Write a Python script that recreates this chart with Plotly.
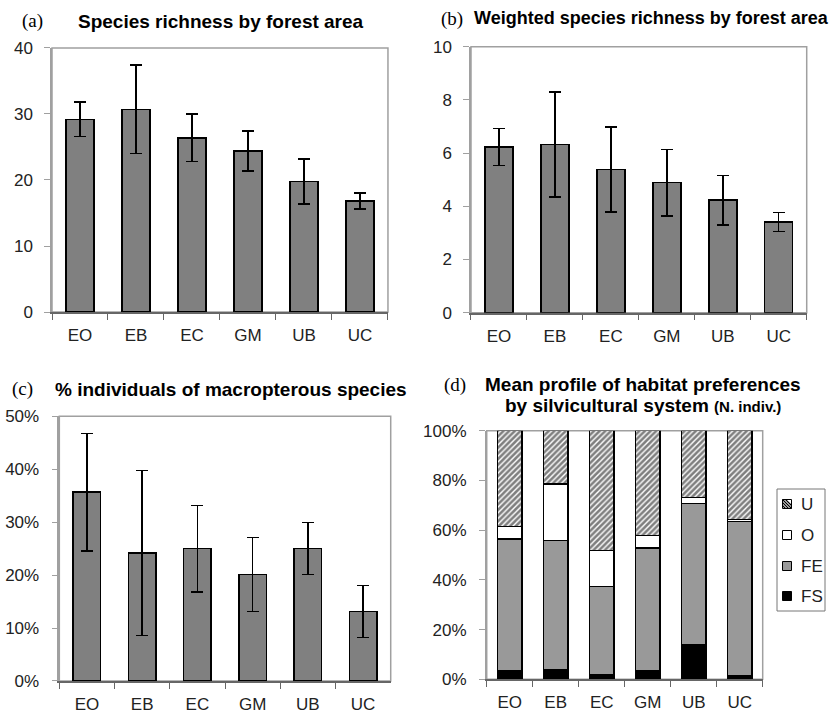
import plotly.graph_objects as go

areas = ["EO", "EB", "EC", "GM", "UB", "UC"]

richness = [29.2, 30.7, 26.4, 24.4, 19.8, 16.8]
richness_err = [2.6, 6.7, 3.6, 3.0, 3.4, 1.2]

weighted = [6.23, 6.32, 5.38, 4.89, 4.23, 3.41]
weighted_err = [0.70, 1.97, 1.60, 1.25, 0.93, 0.36]

macro_pct = [35.7, 24.2, 25.0, 20.1, 25.0, 13.1]
macro_err = [11.1, 15.6, 8.2, 7.0, 4.9, 4.9]

# habitat preference profile (% of individuals), stacked bottom to top
fs_pct = [3.4, 3.9, 2.0, 3.4, 13.7, 1.6]
fe_pct = [53.0, 52.0, 35.3, 49.4, 57.1, 61.9]
o_pct = [5.1, 22.7, 14.6, 5.0, 2.4, 0.8]
u_pct = [38.5, 21.4, 48.1, 42.2, 26.8, 35.7]

legend_labels = ["U", "O", "FE", "FS"]

BAR = "#808080"
FE_COL = "#999999"
FRAME = "#a0a0a0"
TXT = "#222222"
W, H = 832, 713

fig = go.Figure()

def err(arr):
    return dict(type="data", array=arr, visible=True, color="black", thickness=1.5, width=6)

common_bar = dict(marker=dict(color=BAR, line=dict(color="black", width=1.5)), width=0.5, showlegend=False)

fig.add_trace(go.Bar(x=areas, y=richness, error_y=err(richness_err), xaxis="x", yaxis="y", **common_bar))
fig.add_trace(go.Bar(x=areas, y=weighted, error_y=err(weighted_err), xaxis="x2", yaxis="y2", **common_bar))
fig.add_trace(go.Bar(x=areas, y=macro_pct, error_y=err(macro_err), xaxis="x3", yaxis="y3", **common_bar))

hatch = dict(shape="/", fgcolor="black", bgcolor="white", size=4, solidity=0.65)
stack = [
    ("FS", fs_pct, dict(color="black")),
    ("FE", fe_pct, dict(color=FE_COL)),
    ("O", o_pct, dict(color="white")),
    ("U", u_pct, dict(color="white", pattern=hatch)),
]
for name, vals, mk in stack:
    mk = dict(mk)
    mk["line"] = dict(color="black", width=1.5)
    fig.add_trace(go.Bar(x=areas, y=vals, name=name, marker=mk, width=0.53,
                         xaxis="x4", yaxis="y4", showlegend=False))

tickfont = dict(family="Liberation Sans, Arial, sans-serif", size=17, color=TXT)

def xax(domain, anchor):
    return dict(domain=domain, anchor=anchor, type="category", tickson="boundaries",
                ticks="outside", ticklen=6, tickcolor="#666666", showline=True, linecolor="#666666",
                linewidth=1.5, tickfont=tickfont, showgrid=False, zeroline=False, fixedrange=True,
                automargin=False, ticklabelstandoff=7)

def yax(domain, anchor, rng, dtick, suffix="", standoff=8):
    return dict(domain=domain, anchor=anchor, range=rng, dtick=dtick, ticksuffix=suffix,
                ticks="outside", ticklen=6, tickcolor=FRAME, showline=True, linecolor=FRAME,
                linewidth=1.5, tickfont=tickfont, showgrid=False, zeroline=False, fixedrange=True,
                ticklabelstandoff=standoff, automargin=False)

fig.update_layout(
    width=W, height=H, autosize=False,
    margin=dict(l=0, r=0, t=0, b=0, pad=0, autoexpand=False),
    paper_bgcolor="white", plot_bgcolor="white",
    barmode="stack",
    showlegend=False,
    xaxis=xax([0.0625, 0.4663], "y"),
    yaxis=yax([0.5624, 0.9327], "x", [0, 40], 10),
    xaxis2=xax([0.5661, 0.9696], "y2"),
    yaxis2=yax([0.5614, 0.9345], "x2", [0, 10], 2),
    xaxis3=xax([0.0713, 0.4696], "y3"),
    yaxis3=yax([0.0449, 0.4161], "x3", [0, 50], 10, "%", 9),
    xaxis4=xax([0.585, 0.9167], "y4"),
    yaxis4=yax([0.0473, 0.3959], "x4", [0, 100], 20, "%", 9),
)

# frames around plot areas
for i in ["", "2", "3", "4"]:
    fig.add_shape(type="rect", xref=f"x{i} domain", yref=f"y{i} domain", x0=0, x1=1, y0=0, y1=1,
                  line=dict(color=FRAME, width=1.5), layer="below")

def px(x):
    return x / W

def py(y):
    return 1 - y / H

titlefont = dict(family="Liberation Sans, Arial, sans-serif", size=19, color="black")
titlefont_b = dict(family="Liberation Sans, Arial, sans-serif", size=18, color="black")
labfont = dict(family="Liberation Serif, Times New Roman, serif", size=19, color="black")

ann = [
    dict(text="(a)", x=32, y=21, font=labfont),
    dict(text="<b>Species richness by forest area</b>", x=221, y=21, font=titlefont),
    dict(text="(b)", x=452, y=19, font=labfont),
    dict(text="<b>Weighted species richness by forest area</b>", x=472, y=18, font=titlefont_b, anchor="left"),
    dict(text="(c)", x=22, y=389, font=labfont),
    dict(text="<b>% individuals of macropterous species</b>", x=231, y=389, font=titlefont),
    dict(text="(d)", x=455, y=385, font=labfont),
    dict(text="<b>Mean profile of habitat preferences</b>", x=643, y=384, font=titlefont),
    dict(text="<b>by silvicultural system <span style='font-size:15px'>(N. indiv.)</span></b>", x=643, y=405, font=titlefont),
]
for a in ann:
    fig.add_annotation(text=a["text"], x=px(a["x"]), y=py(a["y"]), xref="paper", yref="paper",
                       xanchor=a.get("anchor", "center"), yanchor="middle", showarrow=False, font=a["font"])

# legend (drawn manually to match the compact boxed legend)
fig.add_shape(type="rect", xref="paper", yref="paper", x0=px(777), x1=px(825), y0=py(611), y1=py(489),
              line=dict(color="#777777", width=1), fillcolor="white")
leg_y = [504, 535, 566, 596]
leg_fill = ["white", "white", FE_COL, "black"]
s = 4.5
for lab, yc, fill in zip(legend_labels, leg_y, leg_fill):
    fig.add_shape(type="rect", xref="paper", yref="paper", x0=px(787 - s), x1=px(787 + s),
                  y0=py(yc + s), y1=py(yc - s), line=dict(color="black", width=1), fillcolor=fill)
    if lab == "U":
        x0, y0 = 787 - s, yc + s
        segs = []
        for k in [3, 6, 9, 12]:
            ax, ay = x0, y0 - k
            bx, by = x0 + k, y0
            if k > 2 * s:
                ax, ay = x0 + (k - 2 * s), y0 - 2 * s
                bx, by = x0 + 2 * s, y0 - (k - 2 * s)
            segs.append(f"M {px(ax)},{py(ay)} L {px(bx)},{py(by)}")
        fig.add_shape(type="path", xref="paper", yref="paper", path=" ".join(segs),
                      line=dict(color="black", width=1.2))
    fig.add_annotation(text=lab, x=px(799), y=py(yc), xref="paper", yref="paper", xanchor="left",
                       yanchor="middle", showarrow=False,
                       font=dict(family="Liberation Sans, Arial, sans-serif", size=17, color=TXT))

fig.write_html("out.html", config={"displayModeBar": False, "responsive": False},
               post_script="document.body.style.margin='0';document.body.style.overflow='hidden';")
